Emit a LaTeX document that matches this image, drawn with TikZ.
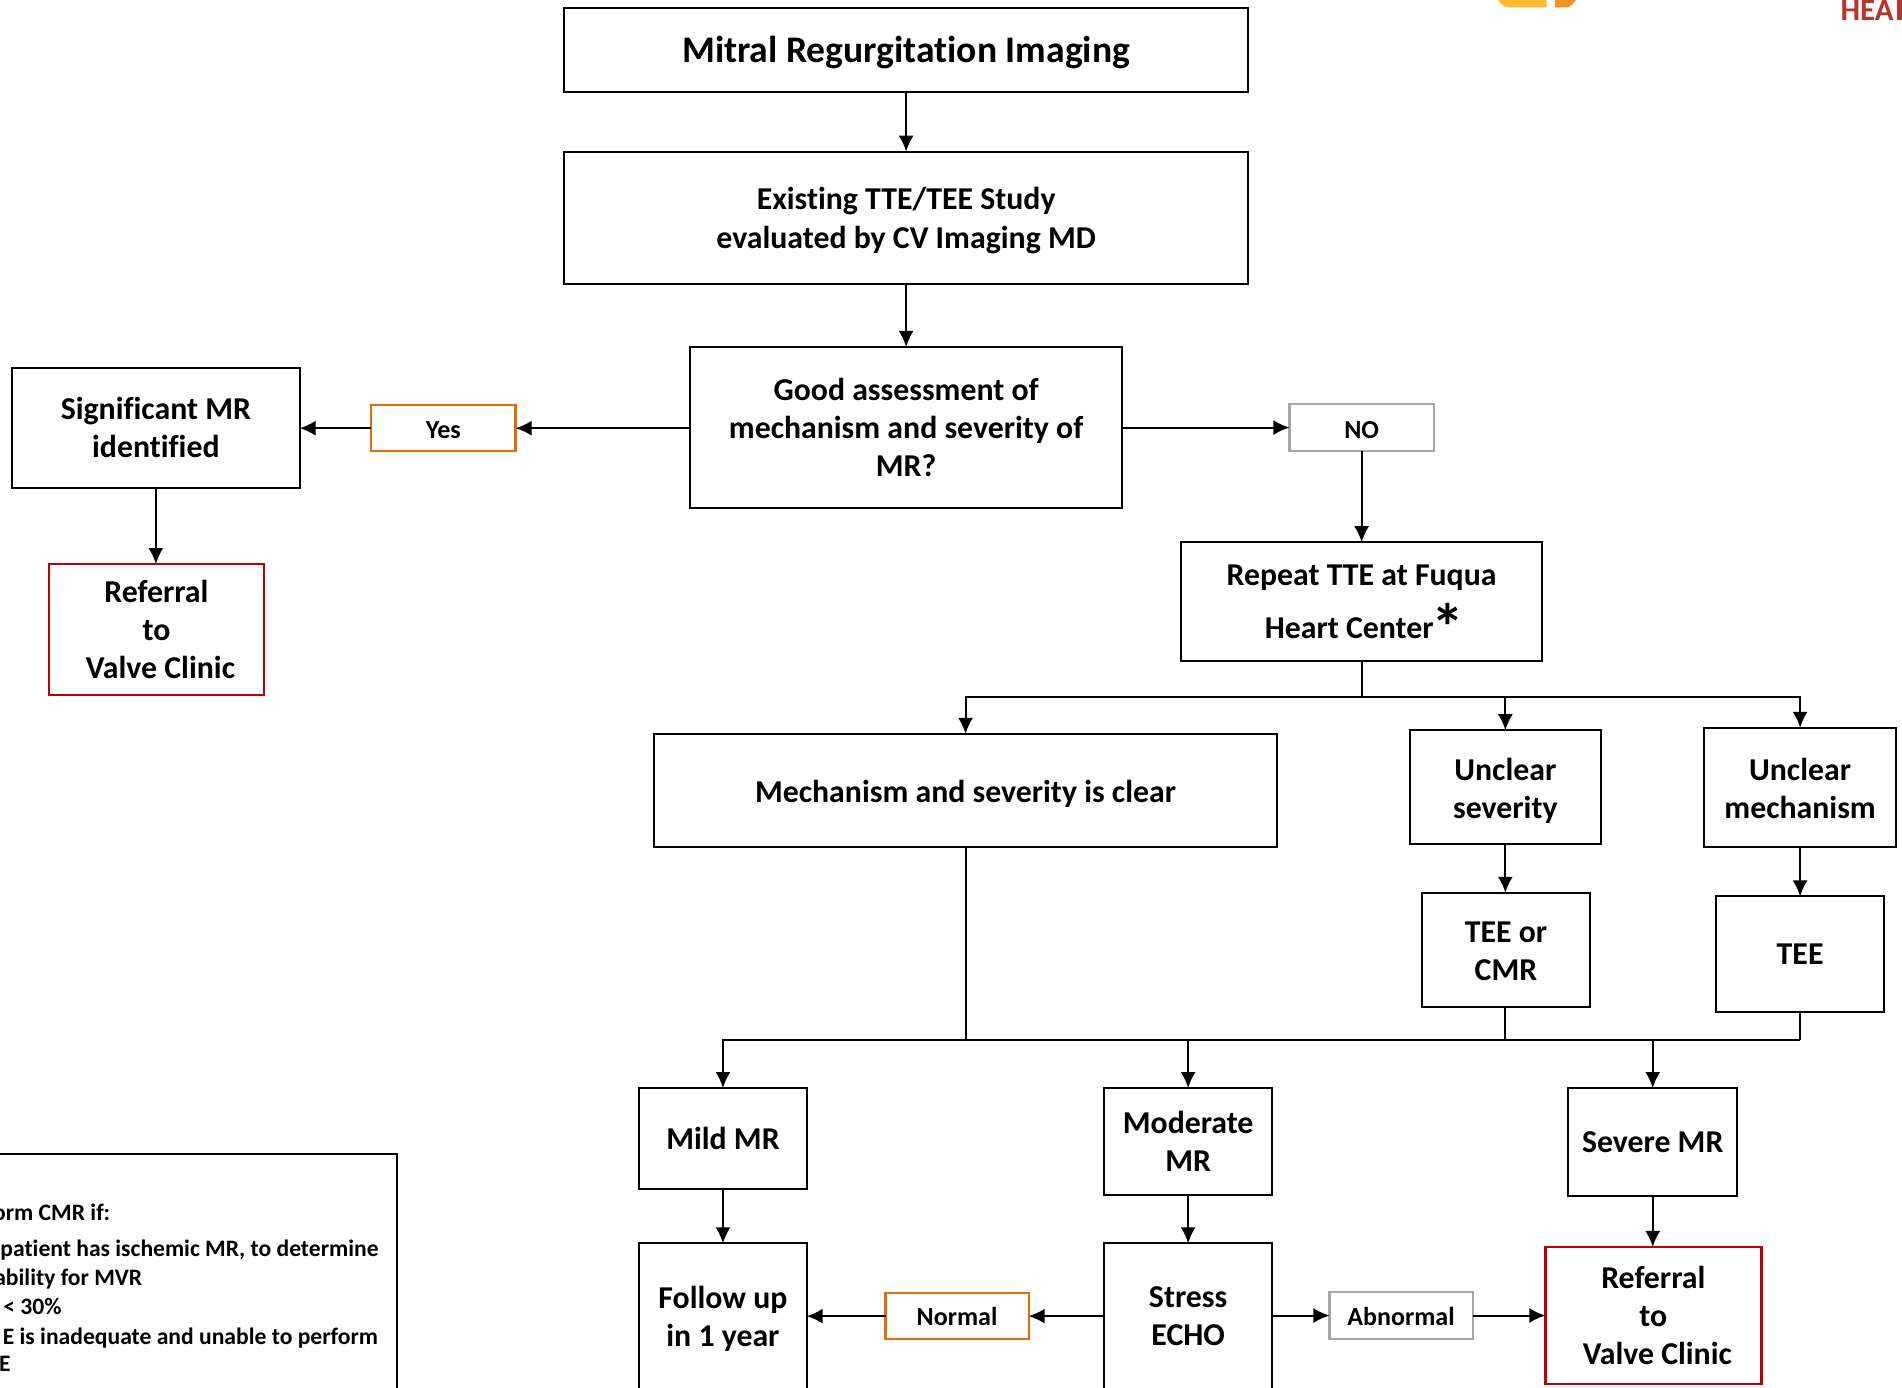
\documentclass[tikz,border=0pt]{standalone}
\usepackage{fontspec}
\setmainfont{Carlito}[BoldFont=Carlito Bold,Ligatures=NoCommon]
\usetikzlibrary{arrows.meta}
\definecolor{mrOrange}{HTML}{E36C0A}
\definecolor{mrGray}{HTML}{A6A6A6}
\definecolor{mrRed}{HTML}{C00000}
\definecolor{logoYellow}{HTML}{FFB92E}
\definecolor{logoOrange}{HTML}{F7931E}
\definecolor{logoRed}{HTML}{B9342A}
\newcommand\fs[1]{\fontsize{#1}{19.1pt}\selectfont\bfseries}
\newcommand\dn[1]{\rule{0pt}{#1}}
\newcommand\bx[7][]{\node[boxbase,#1,minimum width={(#5-#3)*0.6065pt},minimum height={(#6-#4)*0.6065pt}] (#2) at ({(#3+#5)/2},{(#4+#6)/2}) {#7};}
\tikzset{
  boxbase/.style={draw=black,line width=1pt,fill=white,inner sep=0pt,outer sep=0pt,align=center,font=\fs{15.9}},
  redbox/.style={draw=mrRed},
  redthick/.style={draw=mrRed,line width=1.3pt},
  orangebox/.style={draw=mrOrange,line width=1.1pt,font=\fs{13}},
  graybox/.style={draw=mrGray,line width=1.1pt,font=\fs{13}},
  conn/.style={draw=black,line width=1pt},
  arr/.style={conn,-{Latex[length=8pt,width=7.5pt]}},
  legendline/.style={anchor=base west,inner sep=0pt,font=\fs{11.8}}
}
\begin{document}
\begin{tikzpicture}[x=0.6065pt,y=-0.6065pt]
\useasboundingbox (0,0) rectangle (1568,1144);
\clip (0,0) rectangle (1568,1144);
% cropped logo fragments
\fill[logoYellow] (1228,-5) -- (1275,-5) -- (1275,6) -- (1243,6) to[out=180,in=75] (1228,-5);
\fill[logoOrange] (1282,-5) -- (1305,-5) to[out=105,in=0] (1292,6) -- (1282,6) -- cycle;
\node[anchor=base west,inner sep=0pt,text=logoRed,font=\fontsize{15.5}{15.5}\selectfont\bfseries] (logotext) at (1517,16.5) {HEA};
\fill[logoRed] (1564,-5) rectangle (1568,16.5);
% boxes
\bx[font=\fs{18.8}]{title}{465}{7}{1029}{76}{\dn{15pt}Mitral Regurgitation Imaging}
\bx{exist}{465}{125}{1029}{234}{\dn{14pt}Existing TTE/TEE Study\\evaluated by CV Imaging MD}
\bx{good}{569}{286}{925}{419}{Good assessment of\\mechanism and severity of\\MR?}
\bx{sig}{10}{303}{247}{402}{Significant MR\\identified}
\bx[orangebox]{yes}{306}{334}{425}{372}{\dn{10.5pt}Yes}
\bx[graybox]{no}{1063}{333}{1182}{372}{\dn{10.5pt}NO}
\bx{rep}{974}{447}{1271}{545}{Repeat TTE at Fuqua\\[7.5pt]\hspace*{3pt}Heart Center\hspace*{-1pt}\raisebox{-6pt}[0pt][0pt]{\fontsize{33}{33}\selectfont *}}
\bx[redbox]{refa}{40}{465}{218}{573}{Referral\\to\\\hspace*{4pt}Valve Clinic}
\bx{clear}{539}{605}{1053}{698}{\dn{15pt}Mechanism and severity is clear}
\bx{usev}{1162}{602}{1320}{696}{\dn{15pt}Unclear\\severity}
\bx{umech}{1405}{600}{1563}{698}{\dn{12.5pt}Unclear\\mechanism}
\bx{teecmr}{1172}{736}{1311}{830}{\dn{12pt}TEE or\\CMR}
\bx{tee}{1415}{739}{1553}{834}{TEE}
\bx{mild}{527}{897}{665}{980}{Mild MR}
\bx{mod}{910}{897}{1049}{985}{Moderate\\MR}
\bx{sev}{1293}{897}{1432}{986}{Severe MR}
\bx{follow}{527}{1025}{665}{1160}{Follow up\\in 1 year\\[-10pt]\ }
\bx{stress}{910}{1025}{1049}{1160}{Stress\\ECHO\\[-10pt]\ }
\bx[redthick]{refb}{1274}{1028}{1452}{1141}{Referral\\to\\\hspace*{4pt}Valve Clinic}
\bx[orangebox]{normal}{730}{1066}{848}{1104}{Normal}
\bx[graybox]{abn}{1096}{1065}{1214}{1104}{\dn{10.5pt}Abnormal}
\bx{legend}{-10}{951}{327}{1170}{}
\node[legendline] (l1) at (-6,1006) {orm CMR if:};
\node[legendline] (l2) at (0,1036) {patient has ischemic MR, to determine};
\node[legendline] (l3) at (-5,1060) {ability for MVR};
\node[legendline] (l4) at (-2,1084) {\ < 30\%};
\node[legendline] (l5) at (2,1108) {E is inadequate and unable to perform};
\node[legendline] (l6) at (-1,1131) {E};
% junctions
\coordinate (busT) at (1122.5,575);
\coordinate (busB) at (796,857);
\coordinate (busC) at (1241,857);
\coordinate (busD) at (1484,857);
% connectors
\draw[arr] (title.south) -- (exist.north);
\draw[arr] (exist.south) -- (good.north);
\draw[arr] (good.west |- yes.east) -- (yes.east);
\draw[arr] (yes.west) -- (sig.east |- yes.west);
\draw[arr] (sig.south) -- (sig.south |- refa.north);
\draw[arr] (good.east |- no.west) -- (no.west);
\draw[arr] (no.south) -- (no.south |- rep.north);
\draw[conn] (rep.south) -- (busT);
\draw[arr] (busT) -| (clear.north);
\draw[arr] (busT) -| (usev.north);
\draw[arr] (busT) -| (umech.north);
\draw[arr] (usev.south) -- (usev.south |- teecmr.north);
\draw[arr] (umech.south) -- (umech.south |- tee.north);
\draw[conn] (clear.south) -- (busB);
\draw[conn] (teecmr.south -| busC) -- (busC);
\draw[conn] (tee.south -| busD) -- (busD);
\draw[arr] (busD) -| (mild.north);
\draw[arr] (busD -| mod.north) -- (mod.north);
\draw[arr] (busD -| sev.north) -- (sev.north);
\draw[arr] (mild.south) -- (follow.north);
\draw[arr] (mod.south) -- (stress.north);
\draw[arr] (sev.south) -- (sev.south |- refb.north);
\draw[arr] (stress.west |- normal.east) -- (normal.east);
\draw[arr] (normal.west) -- (follow.east |- normal.west);
\draw[arr] (stress.east |- abn.west) -- (abn.west);
\draw[arr] (abn.east) -- (refb.west |- abn.east);
\end{tikzpicture}
\end{document}
